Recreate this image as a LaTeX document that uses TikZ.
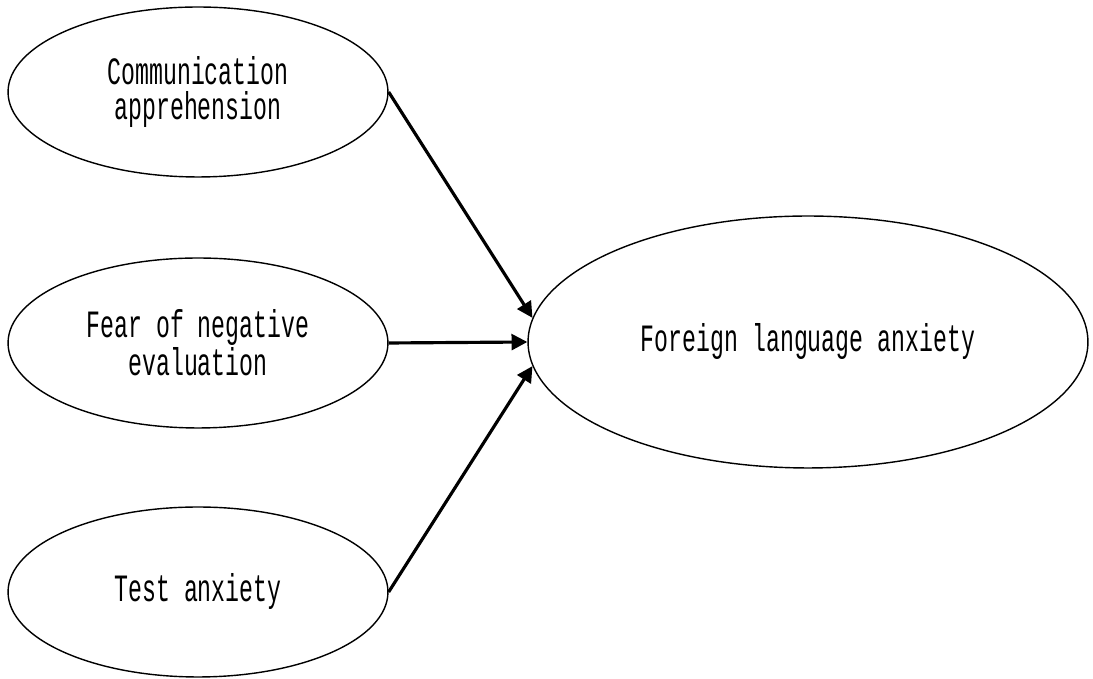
\documentclass[tikz,border=0pt]{standalone}
\usepackage{fontspec}
\newfontfamily\figfont[FakeStretch=0.6]{Liberation Mono}
\usepackage{tikz}
\usetikzlibrary{arrows.meta,positioning,shapes.geometric}
\tikzset{
    factor/.style={ellipse,draw,thick,inner sep=0pt,minimum width=7.6cm,minimum height=3.4cm,align=center},
    outcome/.style={factor,minimum width=11.2cm,minimum height=5.04cm},
    arr/.style={-{Triangle[length=9pt,width=9pt]},line width=1.8pt},
}
\tikzstyle{every node}=[font=\figfont\fontsize{22pt}{20pt}\selectfont]

\begin{document}
\begin{tikzpicture}[x=0.02cm,y=0.02cm]
        \useasboundingbox (0,0) rectangle (1093,679);
        \node[outcome] (FLA) at (808,337) {Foreign language anxiety};
        \node[factor] (CA) at (198,587) {Communication\\apprehension};
        \node[factor] (FNE) at (198,336) {Fear of negative\\evaluation};
        \node[factor] (TA) at (198,87) {Test anxiety};
        \draw[arr] (CA.east) -- (FLA.175);
        \draw[arr] (FNE.east) -- (FLA.west);
        \draw[arr] (TA.east) -- (FLA.185);
    \end{tikzpicture}
\end{document}
